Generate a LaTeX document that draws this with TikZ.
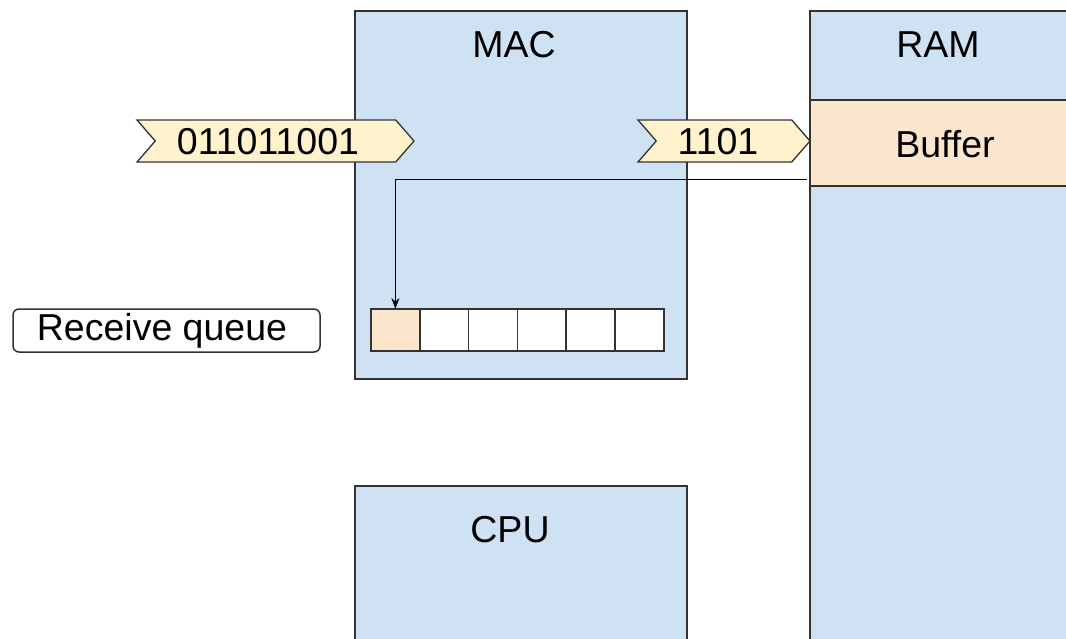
\documentclass[tikz,border=0pt]{standalone}
\usepackage{fontspec}
\setmainfont{Liberation Sans}
\usetikzlibrary{shapes.symbols,arrows.meta,positioning}

\definecolor{boxblue}{HTML}{CFE2F3}
\definecolor{bufpeach}{HTML}{FCE5CD}
\definecolor{bityellow}{HTML}{FFF2CC}
\definecolor{edge}{HTML}{333333}

\begin{document}
\begin{tikzpicture}[x=1pt, y=-1pt, font=\fontsize{37.5}{40}\selectfont]
        \tikzstyle{every node}=[inner sep=0pt, outer sep=0pt]
        \tikzstyle{unit}=[draw=edge, line width=1.5pt, fill=boxblue, rectangle, anchor=north west]
        \tikzstyle{bits}=[draw=edge, line width=1.3pt, fill=bityellow, signal, signal from=west, signal to=east, signal pointer angle=98, minimum height=42pt]
        \tikzstyle{slot}=[draw=edge, line width=1.5pt, fill=white, rectangle, minimum width=48.8pt, minimum height=42pt, anchor=north west]

        \clip (0,0) rectangle (1066,639);
        \fill[white] (0,0) rectangle (1066,639);

% hardware blocks
        \node[unit, minimum width=332pt, minimum height=368pt] (mac) at (355,11) {};
        \node[unit, minimum width=332pt, minimum height=200pt] (cpu) at (355,486) {};
        \node[unit, minimum width=270pt, minimum height=700pt] (ram) at (810,11) {};
        \node[unit, fill=bufpeach, minimum width=270pt, minimum height=86pt] (buffer) at (810,100) {};

        \node (maclbl) at (514,45) {MAC};
        \node (cpulbl) at (510,530) {CPU};
        \node (ramlbl) at (938,45) {RAM};
        \node (buflbl) at (945,144) {Buffer};

% incoming bits
        \node[bits, minimum width=277pt] (wire) at (275.5,141) {};
        \node[bits, minimum width=172pt] (chunk) at (724,141) {};
        \node (wirelbl) at (268,142) {011011001};
        \node (chunklbl) at (718,142) {1101};

% receive queue slots
        \foreach \i in {1,...,6}
            \node[slot] (q\i) at ({371+(\i-1)*48.8},309) {};
        \node[slot, fill=bufpeach] (q1) at (371,309) {};

        \node[draw=edge, line width=1.5pt, rounded corners=6pt, rectangle, minimum width=307pt, minimum height=43pt, anchor=north west] (rq) at (13,309) {};
        \node (rqlbl) at (162,331) {Receive queue};

% buffer address handed to the queue
        \coordinate (tap) at (807,180);
        \draw[line width=1pt, -{Stealth[length=11pt, width=8pt]}] (tap) -| (q1.north);

    \end{tikzpicture}
\end{document}
